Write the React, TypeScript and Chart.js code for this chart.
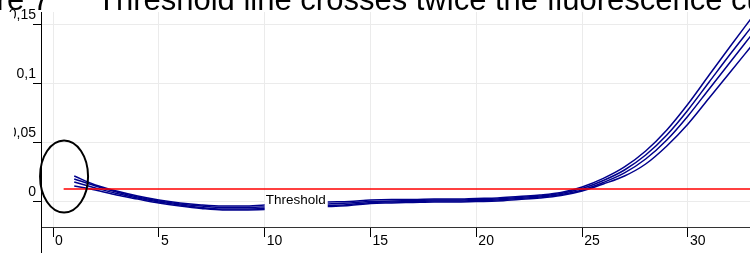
import React, { useEffect, useRef } from "react";
import { Chart, registerables } from "chart.js";

Chart.register(...registerables);

// ---- data ----
const cycles = [1, 2, 3, 4, 5, 6, 7, 8, 9, 10, 11, 12, 13, 14, 15, 16, 17, 18, 19, 20, 21, 22, 23, 24, 25, 26, 27, 28, 29, 30, 31, 32, 33, 34];

const sample1 = [0.022, 0.0144, 0.0093, 0.0051, 0.0017, -0.0008, -0.0025, -0.0034, -0.0034, -0.0025, -0.0017, -0.0008, 0.0, 0.0004, 0.0017, 0.0021, 0.0021, 0.0025, 0.0025, 0.003, 0.0034, 0.0047, 0.0059, 0.008, 0.0127, 0.02, 0.0297, 0.0432, 0.061, 0.083, 0.1076, 0.132, 0.156, 0.18];
const sample2 = [0.0195, 0.0136, 0.0085, 0.0042, 0.0008, -0.0017, -0.0034, -0.0047, -0.0047, -0.0042, -0.0034, -0.0025, -0.0017, -0.0008, 0.0004, 0.0008, 0.0013, 0.0017, 0.0017, 0.0021, 0.0025, 0.0038, 0.0051, 0.0072, 0.0114, 0.0182, 0.0271, 0.0398, 0.0568, 0.078, 0.1017, 0.1254, 0.1483, 0.1712];
const sample3 = [0.0169, 0.0119, 0.0072, 0.0034, 0.0, -0.0025, -0.0047, -0.0059, -0.0059, -0.0055, -0.0047, -0.0038, -0.003, -0.0021, -0.0004, 0.0, 0.0004, 0.0008, 0.0008, 0.0013, 0.0017, 0.003, 0.0042, 0.0064, 0.0102, 0.0165, 0.0246, 0.0364, 0.0525, 0.0729, 0.0958, 0.1186, 0.1415, 0.1644];
const sample4 = [0.0136, 0.0102, 0.0059, 0.0025, -0.0008, -0.0034, -0.0055, -0.0068, -0.0068, -0.0064, -0.0055, -0.0047, -0.0038, -0.003, -0.0013, -0.0008, -0.0004, 0.0, 0.0, 0.0004, 0.0008, 0.0021, 0.0034, 0.0055, 0.0093, 0.0153, 0.022, 0.0322, 0.0475, 0.0661, 0.0881, 0.1102, 0.1322, 0.1542];

const thresholdValue = 0.011;
const thresholdStartEnd = [0.5, 34];
const thresholdLabel = "Threshold";
const thresholdLabelCycle = 10;

const markCenter = [0.52, 0.0216]; // cycle, fluorescence at the circled start

const xTickValues = [0, 5, 10, 15, 20, 25, 30];
const xTickLabels = ["0", "5", "10", "15", "20", "25", "30"];
const yTickValues = [0, 0.05, 0.1, 0.15];
const yTickLabels = ["0", "0,05", "0,1", "0,15"];

const titleLeft = "Figure 7";
const titleRight = "Threshold line crosses twice the fluorescence curve";

// ---- styles ----
const SANS = '"Liberation Sans", Arial, sans-serif';
const CURVE_COLOR = "rgb(0,0,140)";

const toPoints = (ys: number[]) => cycles.map((c, i) => ({ x: c, y: ys[i] }));

const annotations = {
  id: "annotations",
  afterDatasetsDraw(chart: any) {
    const { ctx, scales } = chart;
    const x = scales.x;
    const y = scales.y;
    ctx.save();
    // threshold label with white background
    const lx = x.getPixelForValue(thresholdLabelCycle);
    const ly = y.getPixelForValue(thresholdValue) + 11;
    ctx.font = `13.5px ${SANS}`;
    const w = ctx.measureText(thresholdLabel).width;
    ctx.fillStyle = "#ffffff";
    ctx.fillRect(lx, ly - 9, w + 3, 20);
    ctx.fillStyle = "#000000";
    ctx.textBaseline = "middle";
    ctx.textAlign = "left";
    ctx.fillText(thresholdLabel, lx + 1, ly);
    // ellipse mark
    ctx.beginPath();
    ctx.ellipse(x.getPixelForValue(markCenter[0]), y.getPixelForValue(markCenter[1]), 24, 36, 0, 0, Math.PI * 2);
    ctx.lineWidth = 2;
    ctx.strokeStyle = "#000000";
    ctx.stroke();
    // y axis continuing below the x axis
    ctx.beginPath();
    ctx.moveTo(chart.chartArea.left + 0.5, chart.chartArea.bottom);
    ctx.lineTo(chart.chartArea.left + 0.5, chart.height);
    ctx.lineWidth = 1;
    ctx.stroke();
    ctx.restore();
  },
};

export default function App() {
  const ref = useRef<HTMLCanvasElement | null>(null);

  useEffect(() => {
    if (!ref.current) return;
    const curveDs = (ys: number[]) => ({
      data: toPoints(ys),
      borderColor: CURVE_COLOR,
      borderWidth: 1.5,
      pointRadius: 0,
      cubicInterpolationMode: "monotone" as const,
      fill: false,
    });
    const chart = new Chart(ref.current, {
      type: "line",
      data: {
        datasets: [
          {
            data: thresholdStartEnd.map((c) => ({ x: c, y: thresholdValue })),
            borderColor: "#ff0000",
            borderWidth: 1.6,
            pointRadius: 0,
            fill: false,
          },
          curveDs(sample1),
          curveDs(sample2),
          curveDs(sample3),
          curveDs(sample4),
        ],
      },
      options: {
        responsive: false,
        animation: false,
        events: [],
        layout: { padding: { top: 12, left: 0, right: 0, bottom: 0 }, autoPadding: false },
        plugins: { legend: { display: false }, tooltip: { enabled: false }, title: { display: false } },
        scales: {
          x: {
            type: "linear",
            min: -0.57,
            max: 32.93,
            afterBuildTicks: (s: any) => {
              s.ticks = xTickValues.map((v) => ({ value: v }));
            },
            afterFit: (s: any) => {
              s.height = 26;
            },
            grid: { color: "#ebebeb", lineWidth: 1, tickColor: "#000000", tickLength: 10, drawTicks: true },
            border: { color: "#333333", width: 1 },
            ticks: {
              align: "start",
              labelOffset: 2,
              padding: -4,
              maxRotation: 0,
              autoSkip: false,
              color: "#000000",
              font: { family: SANS, size: 14 },
              callback: (v: any) => xTickLabels[xTickValues.indexOf(Number(v))] ?? "",
            },
          },
          y: {
            type: "linear",
            min: -0.0212,
            max: 0.161,
            afterBuildTicks: (s: any) => {
              s.ticks = yTickValues.map((v) => ({ value: v }));
            },
            afterFit: (s: any) => {
              s.width = 41;
            },
            grid: { color: "#ebebeb", lineWidth: 1, tickColor: "#000000", tickLength: 8, drawTicks: true },
            border: { color: "#000000", width: 1 },
            ticks: {
              padding: -3,
              labelOffset: -10,
              autoSkip: false,
              color: "#000000",
              font: { family: SANS, size: 14 },
              callback: (v: any) => yTickLabels[yTickValues.indexOf(Number(v))] ?? "",
            },
          },
        },
      },
      plugins: [annotations],
    } as any);
    return () => chart.destroy();
  }, []);

  const titleStyle = {
    position: "absolute" as const,
    top: -16,
    fontFamily: SANS,
    fontSize: 31,
    lineHeight: "31px",
    whiteSpace: "nowrap" as const,
    color: "#000",
  };

  return (
    <div style={{ position: "fixed", left: 0, top: 0, width: 750, height: 253, overflow: "hidden", background: "#fff" }}>
      <canvas ref={ref} width={750} height={253} style={{ position: "absolute", left: 0, top: 0, width: 750, height: 253 }} />
      {/* the source figure is cropped just left of the upper axis labels */}
      <div style={{ position: "absolute", left: 0, top: 12, width: 14, height: 135, background: "#fff" }} />
      <div style={{ ...titleStyle, right: 750 - 50 }}>{titleLeft}</div>
      <div style={{ ...titleStyle, left: 97 }}>{titleRight}</div>
    </div>
  );
}
